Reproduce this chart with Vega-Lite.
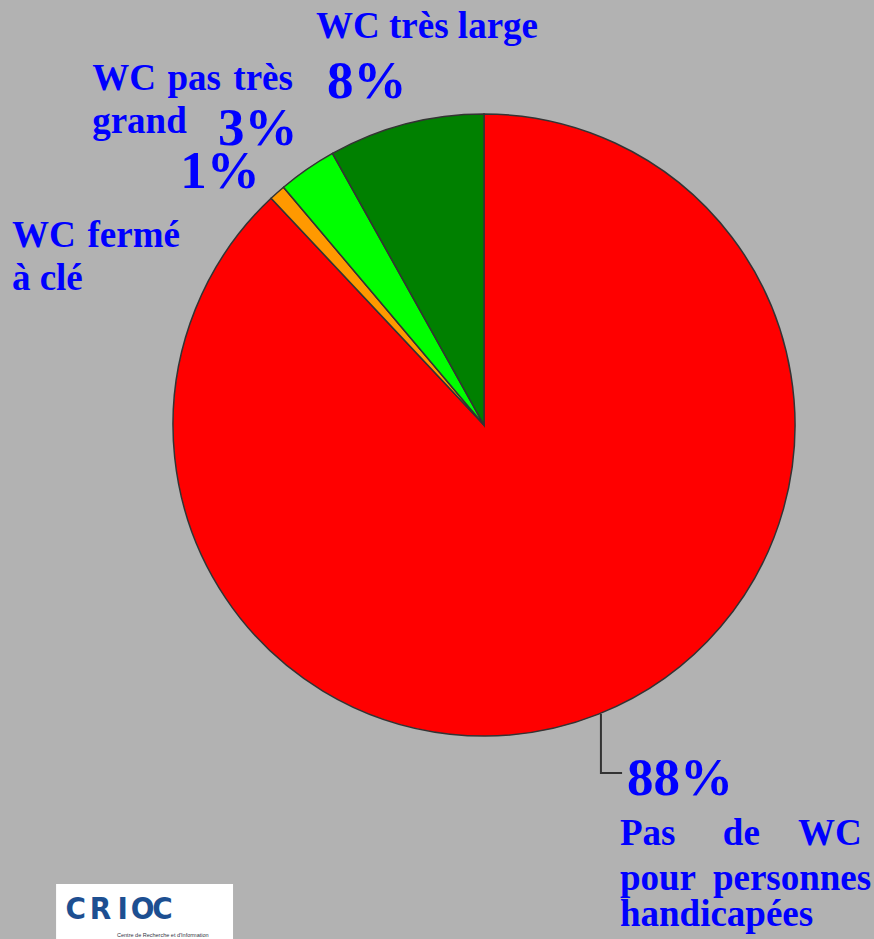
{
  "$schema": "https://vega.github.io/schema/vega-lite/v6.json",
  "width": 760,
  "height": 830,
  "autosize": {"type": "none"},
  "padding": {"left": 104, "top": 10, "right": 10, "bottom": 99},
  "background": "#b2b2b2",
  "config": {"view": {"stroke": null}},
  "datasets": {
    "slices": [
      {"category": "Pas de WC pour personnes handicapées", "share": 88.0, "order": 1},
      {"category": "WC fermé à clé", "share": 0.85, "order": 2},
      {"category": "WC pas très grand", "share": 3.05, "order": 3},
      {"category": "WC très large", "share": 8.1, "order": 4}
    ],
    "labels": [
      {"text": "WC très large", "x": -0.540, "y": 1.244},
      {"text": "WC", "x": -1.260, "y": 1.077},
      {"text": "pas", "x": -1.018, "y": 1.077},
      {"text": "très", "x": -0.806, "y": 1.077},
      {"text": "grand", "x": -1.260, "y": 0.939},
      {"text": "WC", "x": -1.518, "y": 0.572},
      {"text": "fermé", "x": -1.275, "y": 0.572},
      {"text": "à clé", "x": -1.518, "y": 0.434},
      {"text": "Pas", "x": 0.437, "y": -1.350},
      {"text": "de", "x": 0.768, "y": -1.350},
      {"text": "WC", "x": 1.010, "y": -1.350},
      {"text": "pour", "x": 0.437, "y": -1.495},
      {"text": "personnes", "x": 0.736, "y": -1.495},
      {"text": "handicapées", "x": 0.437, "y": -1.610}
    ],
    "percents": [
      {"text": "8%", "x": -0.505, "y": 1.051},
      {"text": "3%", "x": -0.855, "y": 0.900},
      {"text": "1%", "x": -0.977, "y": 0.762},
      {"text": "88%", "x": 0.460, "y": -1.190}
    ],
    "leader": [
      {"step": 1, "x": 0.376, "y": -0.929},
      {"step": 2, "x": 0.376, "y": -1.119},
      {"step": 3, "x": 0.444, "y": -1.119}
    ],
    "logoBox": [
      {"x": -1.376, "x2": -0.807, "y": -1.476, "y2": -1.70}
    ],
    "logoLetters": [
      {"text": "C", "x": -1.313, "y": -1.588},
      {"text": "R", "x": -1.233, "y": -1.588},
      {"text": "I", "x": -1.162, "y": -1.588},
      {"text": "O", "x": -1.098, "y": -1.588},
      {"text": "C", "x": -1.034, "y": -1.588}
    ],
    "logoSub": [
      {"text": "Centre de Recherche et d'Information", "x": -1.180, "y": -1.646}
    ]
  },
  "layer": [
    {
      "data": {"name": "slices"},
      "mark": {"type": "arc", "outerRadius": 311, "stroke": "#333333", "strokeWidth": 1.5},
      "encoding": {
        "theta": {"field": "share", "type": "quantitative", "stack": true},
        "order": {"field": "order", "type": "quantitative"},
        "color": {
          "field": "category",
          "type": "nominal",
          "scale": {
            "domain": ["Pas de WC pour personnes handicapées", "WC fermé à clé", "WC pas très grand", "WC très large"],
            "range": ["#ff0000", "#ff9900", "#00ff00", "#008000"]
          },
          "legend": null
        }
      }
    },
    {
      "data": {"name": "leader"},
      "mark": {"type": "line", "color": "#333333", "strokeWidth": 2},
      "encoding": {
        "x": {"field": "x", "type": "quantitative", "axis": null, "scale": {"domain": [-1.2219, 1.2219], "nice": false, "zero": false}},
        "y": {"field": "y", "type": "quantitative", "axis": null, "scale": {"domain": [-1.3344, 1.3344], "nice": false, "zero": false}},
        "order": {"field": "step", "type": "quantitative"}
      }
    },
    {
      "data": {"name": "labels"},
      "mark": {"type": "text", "align": "left", "baseline": "alphabetic", "font": "Liberation Serif", "fontWeight": "bold", "fontSize": 37, "color": "#0000ff"},
      "encoding": {
        "x": {"field": "x", "type": "quantitative", "axis": null},
        "y": {"field": "y", "type": "quantitative", "axis": null},
        "text": {"field": "text", "type": "nominal"}
      }
    },
    {
      "data": {"name": "percents"},
      "mark": {"type": "text", "align": "left", "baseline": "alphabetic", "font": "Liberation Serif", "fontWeight": "bold", "fontSize": 53, "color": "#0000ff"},
      "encoding": {
        "x": {"field": "x", "type": "quantitative", "axis": null},
        "y": {"field": "y", "type": "quantitative", "axis": null},
        "text": {"field": "text", "type": "nominal"}
      }
    },
    {
      "data": {"name": "logoBox"},
      "mark": {"type": "rect", "color": "#ffffff"},
      "encoding": {
        "x": {"field": "x", "type": "quantitative", "axis": null},
        "x2": {"field": "x2"},
        "y": {"field": "y", "type": "quantitative", "axis": null},
        "y2": {"field": "y2"}
      }
    },
    {
      "data": {"name": "logoLetters"},
      "mark": {"type": "text", "align": "center", "baseline": "alphabetic", "font": "DejaVu Sans Condensed", "fontWeight": "bold", "fontSize": 31, "color": "#1d4f91"},
      "encoding": {
        "x": {"field": "x", "type": "quantitative", "axis": null},
        "y": {"field": "y", "type": "quantitative", "axis": null},
        "text": {"field": "text", "type": "nominal"}
      }
    },
    {
      "data": {"name": "logoSub"},
      "mark": {"type": "text", "align": "left", "baseline": "alphabetic", "font": "Liberation Sans", "fontSize": 5.5, "color": "#333344"},
      "encoding": {
        "x": {"field": "x", "type": "quantitative", "axis": null},
        "y": {"field": "y", "type": "quantitative", "axis": null},
        "text": {"field": "text", "type": "nominal"}
      }
    }
  ]
}
